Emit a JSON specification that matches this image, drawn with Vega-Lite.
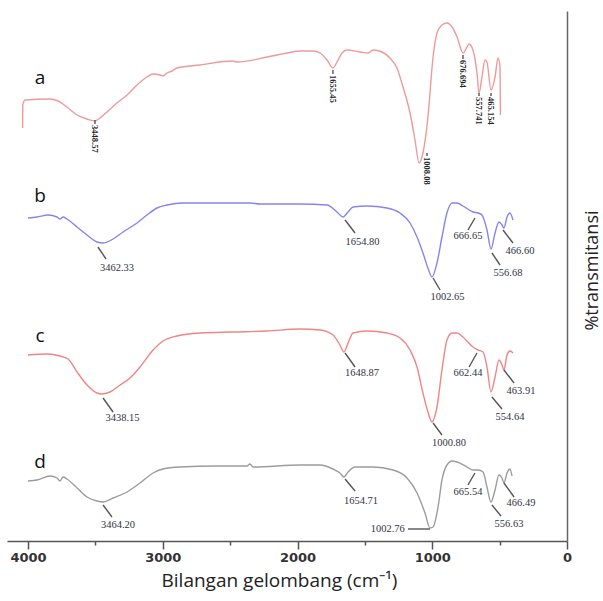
{
  "$schema": "https://vega.github.io/schema/vega-lite/v6.json",
  "width": 560,
  "height": 530,
  "autosize": {"type": "none"},
  "padding": {"left": 7, "top": 11, "right": 36, "bottom": 60},
  "background": "white",
  "config": {"view": {"stroke": null}},
  "datasets": {
    "spectra": [
      {"s": "a", "wn": 4040, "t": 413}, {"s": "a", "wn": 4039, "t": 436}, {"s": "a", "wn": 4022, "t": 441}, {"s": "a", "wn": 3837, "t": 442}, {"s": "a", "wn": 3777, "t": 440}, {"s": "a", "wn": 3711, "t": 434}, {"s": "a", "wn": 3636, "t": 426}, {"s": "a", "wn": 3562, "t": 422}, {"s": "a", "wn": 3503, "t": 420}, {"s": "a", "wn": 3466, "t": 423}, {"s": "a", "wn": 3414, "t": 429}, {"s": "a", "wn": 3340, "t": 438}, {"s": "a", "wn": 3265, "t": 446}, {"s": "a", "wn": 3191, "t": 456}, {"s": "a", "wn": 3117, "t": 464}, {"s": "a", "wn": 3072, "t": 467}, {"s": "a", "wn": 3020, "t": 466}, {"s": "a", "wn": 2998, "t": 465}, {"s": "a", "wn": 2968, "t": 468}, {"s": "a", "wn": 2931, "t": 470}, {"s": "a", "wn": 2894, "t": 473}, {"s": "a", "wn": 2724, "t": 476}, {"s": "a", "wn": 2479, "t": 480}, {"s": "a", "wn": 2449, "t": 479}, {"s": "a", "wn": 2226, "t": 484}, {"s": "a", "wn": 2078, "t": 488}, {"s": "a", "wn": 1981, "t": 490}, {"s": "a", "wn": 1885, "t": 490}, {"s": "a", "wn": 1833, "t": 488}, {"s": "a", "wn": 1781, "t": 481}, {"s": "a", "wn": 1737, "t": 473}, {"s": "a", "wn": 1707, "t": 479}, {"s": "a", "wn": 1670, "t": 488}, {"s": "a", "wn": 1633, "t": 491}, {"s": "a", "wn": 1536, "t": 489}, {"s": "a", "wn": 1477, "t": 488}, {"s": "a", "wn": 1440, "t": 491}, {"s": "a", "wn": 1373, "t": 489}, {"s": "a", "wn": 1314, "t": 483}, {"s": "a", "wn": 1262, "t": 473}, {"s": "a", "wn": 1217, "t": 454}, {"s": "a", "wn": 1165, "t": 428}, {"s": "a", "wn": 1128, "t": 401}, {"s": "a", "wn": 1098, "t": 378}, {"s": "a", "wn": 1069, "t": 388}, {"s": "a", "wn": 1032, "t": 424}, {"s": "a", "wn": 994, "t": 484}, {"s": "a", "wn": 965, "t": 508}, {"s": "a", "wn": 928, "t": 516}, {"s": "a", "wn": 891, "t": 518}, {"s": "a", "wn": 853, "t": 514}, {"s": "a", "wn": 816, "t": 504}, {"s": "a", "wn": 772, "t": 488}, {"s": "a", "wn": 742, "t": 494}, {"s": "a", "wn": 727, "t": 497}, {"s": "a", "wn": 698, "t": 491}, {"s": "a", "wn": 668, "t": 468}, {"s": "a", "wn": 653, "t": 448}, {"s": "a", "wn": 631, "t": 464}, {"s": "a", "wn": 609, "t": 481}, {"s": "a", "wn": 594, "t": 479}, {"s": "a", "wn": 564, "t": 451}, {"s": "a", "wn": 534, "t": 464}, {"s": "a", "wn": 512, "t": 483}, {"s": "a", "wn": 497, "t": 474}, {"s": "a", "wn": 494, "t": 426},

      {"s": "b", "wn": 4000, "t": 323}, {"s": "b", "wn": 3933, "t": 324}, {"s": "b", "wn": 3852, "t": 326}, {"s": "b", "wn": 3785, "t": 324}, {"s": "b", "wn": 3763, "t": 322}, {"s": "b", "wn": 3740, "t": 324}, {"s": "b", "wn": 3711, "t": 322}, {"s": "b", "wn": 3636, "t": 314}, {"s": "b", "wn": 3562, "t": 306}, {"s": "b", "wn": 3488, "t": 299}, {"s": "b", "wn": 3443, "t": 298}, {"s": "b", "wn": 3369, "t": 302}, {"s": "b", "wn": 3295, "t": 309}, {"s": "b", "wn": 3191, "t": 318}, {"s": "b", "wn": 3117, "t": 326}, {"s": "b", "wn": 3043, "t": 333}, {"s": "b", "wn": 2968, "t": 336}, {"s": "b", "wn": 2850, "t": 338}, {"s": "b", "wn": 2479, "t": 338}, {"s": "b", "wn": 2353, "t": 338}, {"s": "b", "wn": 2278, "t": 337}, {"s": "b", "wn": 1981, "t": 337}, {"s": "b", "wn": 1781, "t": 336}, {"s": "b", "wn": 1707, "t": 329}, {"s": "b", "wn": 1662, "t": 324}, {"s": "b", "wn": 1625, "t": 329}, {"s": "b", "wn": 1588, "t": 334}, {"s": "b", "wn": 1484, "t": 335}, {"s": "b", "wn": 1336, "t": 333}, {"s": "b", "wn": 1239, "t": 328}, {"s": "b", "wn": 1165, "t": 318}, {"s": "b", "wn": 1113, "t": 304}, {"s": "b", "wn": 1069, "t": 288}, {"s": "b", "wn": 1032, "t": 273}, {"s": "b", "wn": 1002, "t": 264}, {"s": "b", "wn": 965, "t": 278}, {"s": "b", "wn": 928, "t": 304}, {"s": "b", "wn": 891, "t": 328}, {"s": "b", "wn": 853, "t": 338}, {"s": "b", "wn": 816, "t": 338}, {"s": "b", "wn": 772, "t": 335}, {"s": "b", "wn": 698, "t": 329}, {"s": "b", "wn": 660, "t": 328}, {"s": "b", "wn": 631, "t": 326}, {"s": "b", "wn": 594, "t": 311}, {"s": "b", "wn": 564, "t": 292}, {"s": "b", "wn": 534, "t": 308}, {"s": "b", "wn": 505, "t": 319}, {"s": "b", "wn": 482, "t": 316}, {"s": "b", "wn": 468, "t": 313}, {"s": "b", "wn": 445, "t": 324}, {"s": "b", "wn": 423, "t": 328}, {"s": "b", "wn": 401, "t": 321},

      {"s": "c", "wn": 4000, "t": 186}, {"s": "c", "wn": 3859, "t": 187}, {"s": "c", "wn": 3763, "t": 185}, {"s": "c", "wn": 3703, "t": 182}, {"s": "c", "wn": 3636, "t": 169}, {"s": "c", "wn": 3562, "t": 156}, {"s": "c", "wn": 3488, "t": 148}, {"s": "c", "wn": 3451, "t": 147}, {"s": "c", "wn": 3392, "t": 149}, {"s": "c", "wn": 3317, "t": 156}, {"s": "c", "wn": 3243, "t": 163}, {"s": "c", "wn": 3169, "t": 174}, {"s": "c", "wn": 3072, "t": 191}, {"s": "c", "wn": 2998, "t": 200}, {"s": "c", "wn": 2894, "t": 205}, {"s": "c", "wn": 2724, "t": 208}, {"s": "c", "wn": 2479, "t": 209}, {"s": "c", "wn": 2226, "t": 210}, {"s": "c", "wn": 1981, "t": 212}, {"s": "c", "wn": 1833, "t": 211}, {"s": "c", "wn": 1737, "t": 206}, {"s": "c", "wn": 1685, "t": 196}, {"s": "c", "wn": 1655, "t": 189}, {"s": "c", "wn": 1625, "t": 198}, {"s": "c", "wn": 1588, "t": 208}, {"s": "c", "wn": 1484, "t": 210}, {"s": "c", "wn": 1336, "t": 208}, {"s": "c", "wn": 1239, "t": 203}, {"s": "c", "wn": 1165, "t": 191}, {"s": "c", "wn": 1113, "t": 174}, {"s": "c", "wn": 1069, "t": 148}, {"s": "c", "wn": 1032, "t": 129}, {"s": "c", "wn": 1002, "t": 119}, {"s": "c", "wn": 965, "t": 134}, {"s": "c", "wn": 928, "t": 171}, {"s": "c", "wn": 891, "t": 201}, {"s": "c", "wn": 853, "t": 208}, {"s": "c", "wn": 816, "t": 208}, {"s": "c", "wn": 772, "t": 204}, {"s": "c", "wn": 698, "t": 194}, {"s": "c", "wn": 660, "t": 191}, {"s": "c", "wn": 623, "t": 189}, {"s": "c", "wn": 594, "t": 174}, {"s": "c", "wn": 564, "t": 149}, {"s": "c", "wn": 534, "t": 164}, {"s": "c", "wn": 505, "t": 181}, {"s": "c", "wn": 482, "t": 176}, {"s": "c", "wn": 468, "t": 171}, {"s": "c", "wn": 445, "t": 186}, {"s": "c", "wn": 423, "t": 190}, {"s": "c", "wn": 401, "t": 188},

      {"s": "d", "wn": 4000, "t": 60}, {"s": "d", "wn": 3933, "t": 61}, {"s": "d", "wn": 3837, "t": 65}, {"s": "d", "wn": 3785, "t": 63}, {"s": "d", "wn": 3763, "t": 60}, {"s": "d", "wn": 3740, "t": 64}, {"s": "d", "wn": 3711, "t": 62}, {"s": "d", "wn": 3636, "t": 53}, {"s": "d", "wn": 3562, "t": 44}, {"s": "d", "wn": 3488, "t": 40}, {"s": "d", "wn": 3443, "t": 39}, {"s": "d", "wn": 3369, "t": 43}, {"s": "d", "wn": 3265, "t": 49}, {"s": "d", "wn": 3169, "t": 58}, {"s": "d", "wn": 3072, "t": 68}, {"s": "d", "wn": 2998, "t": 72}, {"s": "d", "wn": 2872, "t": 74}, {"s": "d", "wn": 2597, "t": 75}, {"s": "d", "wn": 2375, "t": 75}, {"s": "d", "wn": 2353, "t": 77}, {"s": "d", "wn": 2330, "t": 74}, {"s": "d", "wn": 1981, "t": 76}, {"s": "d", "wn": 1833, "t": 76}, {"s": "d", "wn": 1737, "t": 72}, {"s": "d", "wn": 1685, "t": 68}, {"s": "d", "wn": 1655, "t": 64}, {"s": "d", "wn": 1625, "t": 69}, {"s": "d", "wn": 1573, "t": 74}, {"s": "d", "wn": 1440, "t": 74}, {"s": "d", "wn": 1291, "t": 71}, {"s": "d", "wn": 1187, "t": 63}, {"s": "d", "wn": 1113, "t": 48}, {"s": "d", "wn": 1054, "t": 28}, {"s": "d", "wn": 1017, "t": 13}, {"s": "d", "wn": 994, "t": 14}, {"s": "d", "wn": 957, "t": 34}, {"s": "d", "wn": 928, "t": 61}, {"s": "d", "wn": 891, "t": 76}, {"s": "d", "wn": 853, "t": 80}, {"s": "d", "wn": 816, "t": 79}, {"s": "d", "wn": 742, "t": 74}, {"s": "d", "wn": 698, "t": 71}, {"s": "d", "wn": 660, "t": 71}, {"s": "d", "wn": 623, "t": 69}, {"s": "d", "wn": 594, "t": 54}, {"s": "d", "wn": 564, "t": 39}, {"s": "d", "wn": 534, "t": 51}, {"s": "d", "wn": 505, "t": 66}, {"s": "d", "wn": 482, "t": 63}, {"s": "d", "wn": 468, "t": 58}, {"s": "d", "wn": 445, "t": 68}, {"s": "d", "wn": 423, "t": 72}, {"s": "d", "wn": 408, "t": 65}
    ],
    "leaders": [
      {"wn": 3503, "wn2": 3503, "t": 421, "t2": 417},
      {"wn": 1737, "wn2": 1737, "t": 471, "t2": 467},
      {"wn": 1039, "wn2": 1039, "t": 388, "t2": 385},
      {"wn": 772, "wn2": 772, "t": 486, "t2": 482},
      {"wn": 653, "wn2": 653, "t": 448, "t2": 445},
      {"wn": 564, "wn2": 564, "t": 448, "t2": 445},
      {"wn": 3481, "wn2": 3421, "t": 294, "t2": 282},
      {"wn": 1647, "wn2": 1573, "t": 321, "t2": 308},
      {"wn": 994, "wn2": 942, "t": 263, "t2": 251},
      {"wn": 683, "wn2": 735, "t": 323, "t2": 311},
      {"wn": 557, "wn2": 497, "t": 288, "t2": 276},
      {"wn": 475, "wn2": 401, "t": 311, "t2": 298},
      {"wn": 3443, "wn2": 3369, "t": 143, "t2": 129},
      {"wn": 1647, "wn2": 1573, "t": 188, "t2": 174},
      {"wn": 994, "wn2": 928, "t": 118, "t2": 106},
      {"wn": 668, "wn2": 727, "t": 188, "t2": 174},
      {"wn": 557, "wn2": 482, "t": 144, "t2": 132},
      {"wn": 468, "wn2": 393, "t": 171, "t2": 158},
      {"wn": 3443, "wn2": 3377, "t": 36, "t2": 24},
      {"wn": 1647, "wn2": 1573, "t": 62, "t2": 50},
      {"wn": 1180, "wn2": 1017, "t": 12, "t2": 12},
      {"wn": 683, "wn2": 735, "t": 68, "t2": 56},
      {"wn": 557, "wn2": 490, "t": 36, "t2": 25},
      {"wn": 468, "wn2": 393, "t": 58, "t2": 44}
    ],
    "peakLabels": [
      {"txt": "3462.33", "wn": 3340, "t": 273},
      {"txt": "1654.80", "wn": 1518, "t": 299},
      {"txt": "1002.65", "wn": 887, "t": 244},
      {"txt": "666.65", "wn": 735, "t": 305},
      {"txt": "556.68", "wn": 438, "t": 268},
      {"txt": "466.60", "wn": 349, "t": 290},
      {"txt": "3438.15", "wn": 3299, "t": 123},
      {"txt": "1648.87", "wn": 1521, "t": 168},
      {"txt": "1000.80", "wn": 876, "t": 98},
      {"txt": "662.44", "wn": 735, "t": 168},
      {"txt": "554.64", "wn": 423, "t": 124},
      {"txt": "463.91", "wn": 341, "t": 150},
      {"txt": "3464.20", "wn": 3332, "t": 16},
      {"txt": "1654.71", "wn": 1529, "t": 40},
      {"txt": "1002.76", "wn": 1330, "t": 12},
      {"txt": "665.54", "wn": 735, "t": 49},
      {"txt": "556.63", "wn": 430, "t": 17},
      {"txt": "466.49", "wn": 341, "t": 38}
    ],
    "aLabels": [
      {"txt": "3448.57", "wn": 3503, "t": 416},
      {"txt": "1655.45", "wn": 1737, "t": 466},
      {"txt": "1008.08", "wn": 1039, "t": 384},
      {"txt": "676.694", "wn": 772, "t": 481},
      {"txt": "557.741", "wn": 653, "t": 444},
      {"txt": "465.154", "wn": 564, "t": 444}
    ],
    "letters": [
      {"txt": "a", "wn": 3911, "t": 463},
      {"txt": "b", "wn": 3911, "t": 345},
      {"txt": "c", "wn": 3911, "t": 205},
      {"txt": "d", "wn": 3911, "t": 79}
    ]
  },
  "layer": [
    {
      "data": {"name": "spectra"},
      "mark": {"type": "line", "strokeWidth": 1.4, "clip": false, "interpolate": "monotone"},
      "encoding": {
        "x": {
          "field": "wn", "type": "quantitative",
          "scale": {"domain": [4156, 0], "nice": false, "zero": false},
          "axis": {
            "values": [4000, 3500, 3000, 2500, 2000, 1500, 1000, 500, 0],
            "format": "d",
            "labelExpr": "datum.value % 1000 === 0 ? datum.label : ''",
            "grid": false,
            "domainColor": "#555555",
            "domainWidth": 1.5,
            "tickColor": "#555555",
            "tickWidth": 1.5,
            "tickSize": {"condition": {"test": "datum.value % 1000 === 0", "value": 8}, "value": 4},
            "labelFont": "DejaVu Sans",
            "labelFontWeight": "bold",
            "labelFontSize": 13,
            "labelColor": "#333333",
            "labelPadding": 2,
            "labelFlush": false,
            "title": "Bilangan gelombang (cm⁻¹)",
            "titleFont": "Open Sans",
            "titleFontSize": 19,
            "titleFontWeight": "normal",
            "titleColor": "#222222",
            "titlePadding": 7,
            "titleX": 272,
            "titleAnchor": "middle"
          }
        },
        "y": {
          "field": "t", "type": "quantitative",
          "scale": {"domain": [0, 530], "nice": false, "zero": false},
          "axis": {
            "orient": "right",
            "ticks": false,
            "labels": false,
            "grid": false,
            "domainColor": "#666666",
            "domainWidth": 1.5,
            "title": "%transmitansi",
            "titleAngle": 270,
            "titleFont": "Open Sans",
            "titleFontSize": 18,
            "titleFontWeight": "normal",
            "titleColor": "#222222",
            "titlePadding": 34,
            "titleY": 259
          }
        },
        "color": {
          "field": "s", "type": "nominal",
          "scale": {"domain": ["a", "b", "c", "d"], "range": ["#ef9a9a", "#8585f0", "#f08585", "#9c9c9c"]},
          "legend": null
        }
      }
    },
    {
      "data": {"name": "leaders"},
      "mark": {"type": "rule", "color": "#555555", "strokeWidth": 1.4},
      "encoding": {
        "x": {"field": "wn", "type": "quantitative"},
        "x2": {"field": "wn2"},
        "y": {"field": "t", "type": "quantitative"},
        "y2": {"field": "t2"}
      }
    },
    {
      "data": {"name": "peakLabels"},
      "mark": {"type": "text", "font": "Liberation Serif", "fontSize": 10.5, "color": "#333344", "baseline": "middle", "align": "center"},
      "encoding": {
        "x": {"field": "wn", "type": "quantitative"},
        "y": {"field": "t", "type": "quantitative"},
        "text": {"field": "txt"}
      }
    },
    {
      "data": {"name": "aLabels"},
      "mark": {"type": "text", "font": "Liberation Sans Narrow", "fontSize": 8.5, "fontWeight": "bold", "color": "#222222", "angle": 90, "align": "left", "baseline": "middle"},
      "encoding": {
        "x": {"field": "wn", "type": "quantitative"},
        "y": {"field": "t", "type": "quantitative"},
        "text": {"field": "txt"}
      }
    },
    {
      "data": {"name": "letters"},
      "mark": {"type": "text", "font": "Open Sans", "fontSize": 19, "color": "#111111", "align": "center", "baseline": "middle"},
      "encoding": {
        "x": {"field": "wn", "type": "quantitative"},
        "y": {"field": "t", "type": "quantitative"},
        "text": {"field": "txt"}
      }
    }
  ]
}
